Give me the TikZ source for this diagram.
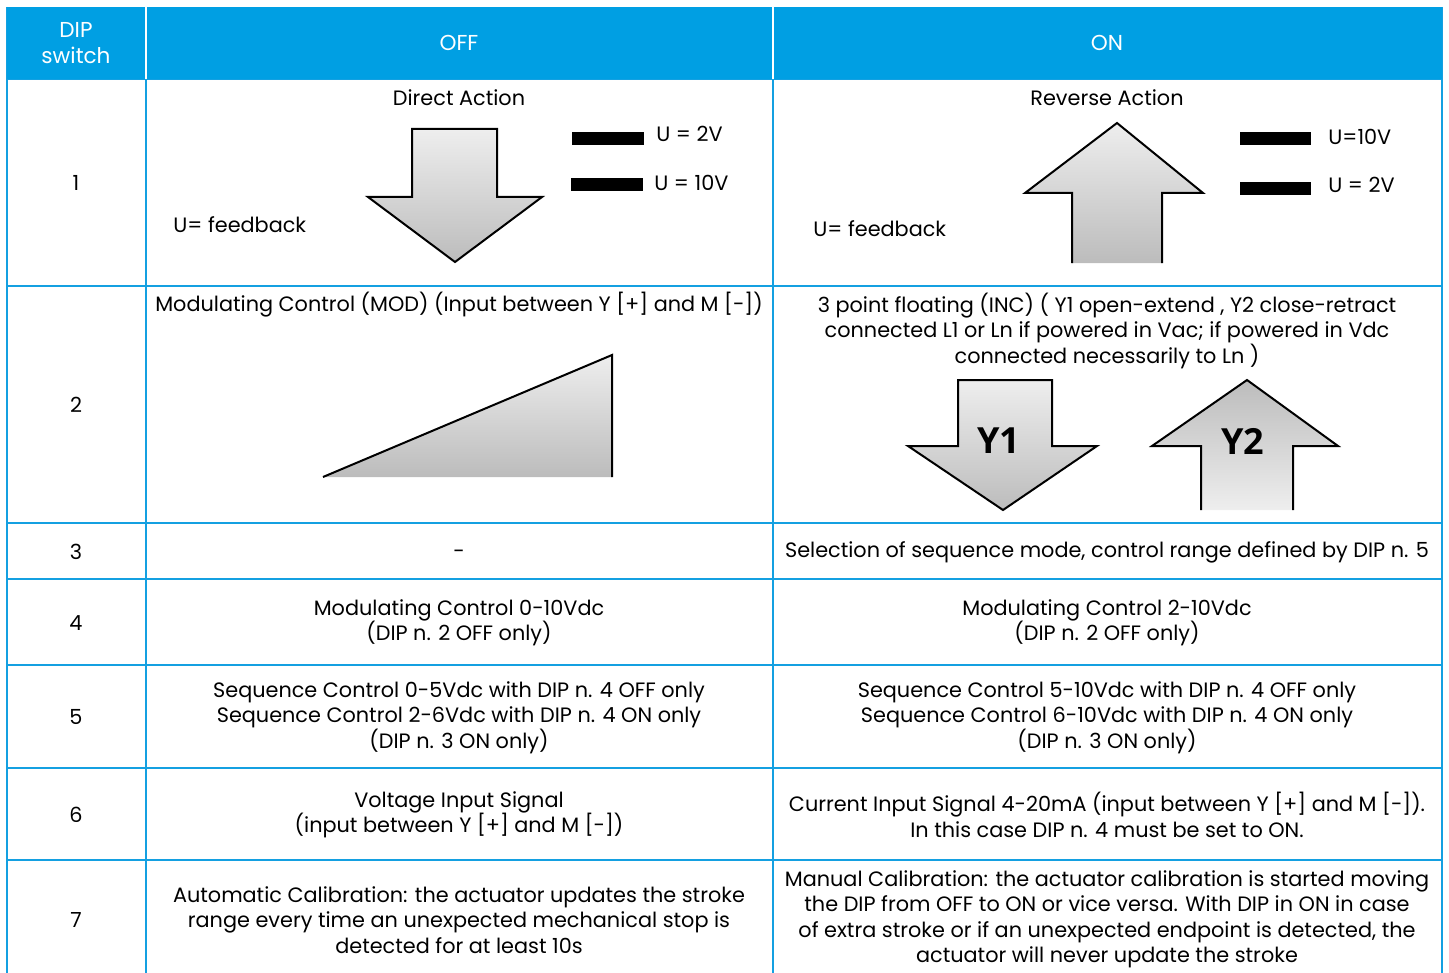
\documentclass[tikz,border=0pt]{standalone}
\usepackage{fontspec}
\setmainfont{Poppins}
\newfontfamily\yfont{Open Sans}
\usetikzlibrary{positioning}
\definecolor{headblue}{RGB}{0,159,227}
\definecolor{gridblue}{RGB}{20,160,225}
\definecolor{shadelight}{RGB}{238,238,238}
\definecolor{shadedark}{RGB}{188,188,188}

\tikzset{
  cell/.style={align=center, inner sep=0pt, font=\fontsize{10.4}{12.75}\selectfont},
  headcell/.style={cell, text=white, font=\fontsize{10.8}{12.75}\selectfont},
  gridline/.style={draw=gridblue, line width=0.8pt},
  bar/.style={fill=black},
  shadedown/.style={draw=black, line width=1pt, top color=shadelight, bottom color=shadedark},
  shadeup/.style={draw=black, line width=1pt, top color=shadedark, bottom color=shadelight},
  ylabel/.style={inner sep=0pt, font=\yfont\bfseries\fontsize{18}{18}\selectfont}
}

\begin{document}
\begin{tikzpicture}[x=0.5pt, y=-0.5pt]
  \useasboundingbox (0,0) rectangle (1449,973);

  % grid
  \foreach \ypos in {79,286,523,579,665,768,860}
    \draw[gridline] (7,\ypos) -- (1442,\ypos);
  \foreach \xpos in {7,146,773,1442}
    \draw[gridline] (\xpos,7) -- (\xpos,973);
  \fill[headblue] (7,7) rectangle (1442,79);
  \draw[white, line width=0.8pt] (146,7) -- (146,79) (773,7) -- (773,79);

  % header
  \node[headcell] (hdip) at (76,43) {DIP\\switch};
  \node[headcell] (hoff) at (459,43) {OFF};
  \node[headcell] (hon) at (1107,43) {ON};

  % row labels
  \foreach \n/\ypos in {1/183,2/405,3/552,4/623,5/717,6/815,7/920}
    \node[cell] (r\n) at (76,\ypos) {\n};

  % row 1
  \node[cell] (off1) at (459,98) {Direct Action};
  \draw[shadedown] (412,129) -- (497,129) -- (497,197) -- (542,197) -- (455,262)
    -- (368,197) -- (412,197) -- cycle;
  \fill[bar] (572,132) rectangle (644,145);
  \fill[bar] (571,178) rectangle (643,191);
  \node[cell, anchor=west] (u2off) at (656,134) {U = 2V};
  \node[cell, anchor=west] (u10off) at (654,183) {U = 10V};
  \node[cell, anchor=west] (fboff) at (173,225) {U= feedback};

  \node[cell] (on1) at (1107,98) {Reverse Action};
  \draw[shadedown] (1072,263) -- (1072,193) -- (1025,193) -- (1117,123) -- (1203,193)
    -- (1162,193) -- (1162,263);
  \fill[bar] (1240,132) rectangle (1311,145);
  \fill[bar] (1240,182) rectangle (1311,195);
  \node[cell, anchor=west] (u10on) at (1328,137) {U=10V};
  \node[cell, anchor=west] (u2on) at (1328,185) {U = 2V};
  \node[cell, anchor=west] (fbon) at (813,229) {U= feedback};

  % row 2
  \node[cell] (off2) at (459,305) {Modulating Control (MOD) (Input between Y [+] and M [-])};
  \draw[shadedown] (323,477) -- (612,355) -- (612,477);

  \node[cell] (on2) at (1107,330.5) {3 point floating (INC) ( Y1 open-extend , Y2 close-retract\\
    connected L1 or Ln if powered in Vac; if powered in Vdc\\connected necessarily to Ln )};
  \draw[shadedown] (958,380) -- (1052,380) -- (1052,446) -- (1097,446) -- (1003,510)
    -- (908,446) -- (958,446) -- cycle;
  \node[ylabel] (y1) at (999,441) {Y1};
  \draw[shadeup] (1201,510) -- (1201,446) -- (1152,446) -- (1247,380) -- (1338,446)
    -- (1293,446) -- (1293,510);
  \node[ylabel] (y2) at (1243,441) {Y2};

  % rows 3 to 7
  \node[cell] (off3) at (459,554) {-};
  \node[cell] (on3) at (1107,552) {Selection of sequence mode, control range defined by DIP n. 5};

  \node[cell] (off4) at (459,623) {Modulating Control 0-10Vdc\\(DIP n. 2 OFF only)};
  \node[cell] (on4) at (1107,623) {Modulating Control 2-10Vdc\\(DIP n. 2 OFF only)};

  \node[cell] (off5) at (459,717.5) {Sequence Control 0-5Vdc with DIP n. 4 OFF only\\
    Sequence Control 2-6Vdc with DIP n. 4 ON only\\(DIP n. 3 ON only)};
  \node[cell] (on5) at (1107,717.5) {Sequence Control 5-10Vdc with DIP n. 4 OFF only\\
    Sequence Control 6-10Vdc with DIP n. 4 ON only\\(DIP n. 3 ON only)};

  \node[cell] (off6) at (459,815) {Voltage Input Signal\\(input between Y [+] and M [-])};
  \node[cell] (on6) at (1107,815) {Current Input Signal 4-20mA (input between Y [+] and M [-]).\\
    In this case DIP n. 4 must be set to ON.};

  \node[cell] (off7) at (459,920) {Automatic Calibration: the actuator updates the stroke\\
    range every time an unexpected mechanical stop is\\detected for at least 10s};
  \node[cell] (on7) at (1107,919.5) {Manual Calibration: the actuator calibration is started moving\\
    the DIP from OFF to ON or vice versa. With DIP in ON in case\\
    of extra stroke or if an unexpected endpoint is detected, the\\
    actuator will never update the stroke};
\end{tikzpicture}
\end{document}
